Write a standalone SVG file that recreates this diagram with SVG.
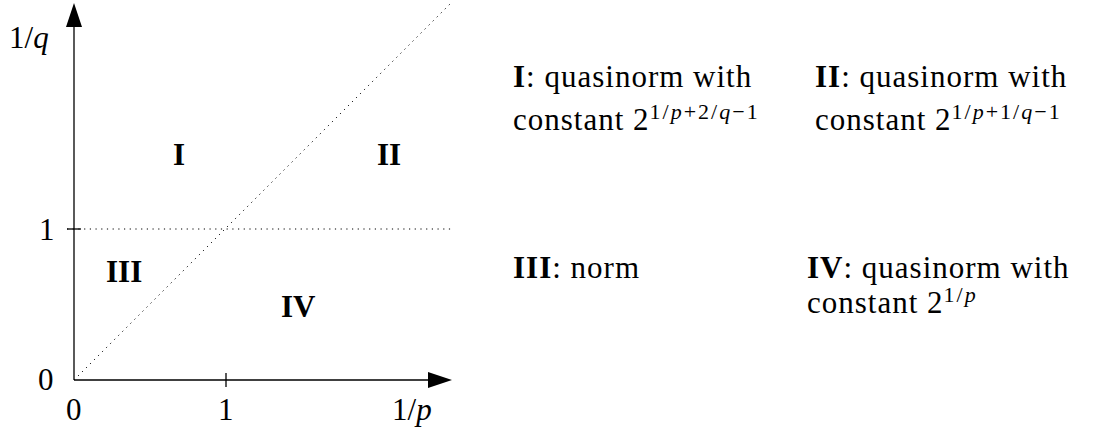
<svg xmlns="http://www.w3.org/2000/svg" width="1093" height="436" viewBox="0 0 1093 436">
<style>
.b{font-weight:bold}
.i{font-style:italic}
.sup{font-size:22px}
.ax{stroke:#000;stroke-width:1.3;fill:none}
.dot{stroke:#000;stroke-width:1;stroke-dasharray:1.2 4.5;fill:none}
</style>
<rect width="1093" height="436" fill="#fff"/>
<g id="connectors">
<line class="dot" x1="74" y1="380" x2="452" y2="2"/>
<line class="dot" x1="67" y1="229" x2="452" y2="229"/>
<path class="ax" d="M74,380 H432"/>
<path d="M452,380 L428,372 L428,388 z" fill="#000"/>
<path class="ax" d="M74,380 V24"/>
<path d="M74,3 L66,27 L82,27 z" fill="#000"/>
<line class="ax" x1="226" y1="373" x2="226" y2="387"/>
<line class="ax" x1="67" y1="229" x2="81" y2="229"/>
</g>
<g id="axis-labels">
<text x="9" y="48" style="font-family:'Liberation Serif',serif;font-size:31px">1/<tspan class="i">q</tspan></text>
<text x="39" y="240" style="font-family:'Liberation Serif',serif;font-size:31px">1</text>
<text x="38" y="390" style="font-family:'Liberation Serif',serif;font-size:31px">0</text>
<text x="66" y="420" style="font-family:'Liberation Serif',serif;font-size:31px">0</text>
<text x="218" y="420" style="font-family:'Liberation Serif',serif;font-size:31px">1</text>
<text x="392" y="420" style="font-family:'Liberation Serif',serif;font-size:31px">1/<tspan class="i">p</tspan></text>
</g>
<g id="region-I"><text class="b" x="173" y="165" style="font-family:'Liberation Serif',serif;font-size:31px">I</text></g>
<g id="region-II"><text class="b" x="377" y="165" style="font-family:'Liberation Serif',serif;font-size:31px">II</text></g>
<g id="region-III"><text class="b" x="106" y="282" style="font-family:'Liberation Serif',serif;font-size:31px">III</text></g>
<g id="region-IV"><text class="b" x="281" y="317" style="font-family:'Liberation Serif',serif;font-size:31px">IV</text></g>
<g id="legend-I">
<text x="513" y="87" style="font-family:'Liberation Serif',serif;font-size:31px;letter-spacing:1px"><tspan class="b">I</tspan>: quasinorm with</text>
<text x="513" y="130" style="font-family:'Liberation Serif',serif;font-size:31px;letter-spacing:1px">constant 2<tspan class="sup" dy="-11" style="letter-spacing:2px">1/<tspan class="i">p</tspan>+2/<tspan class="i">q</tspan>−1</tspan></text>
</g>
<g id="legend-II">
<text x="815" y="87" style="font-family:'Liberation Serif',serif;font-size:31px;letter-spacing:1px"><tspan class="b">II</tspan>: quasinorm with</text>
<text x="815" y="130" style="font-family:'Liberation Serif',serif;font-size:31px;letter-spacing:1px">constant 2<tspan class="sup" dy="-11" style="letter-spacing:2px">1/<tspan class="i">p</tspan>+1/<tspan class="i">q</tspan>−1</tspan></text>
</g>
<g id="legend-III">
<text x="513" y="278" style="font-family:'Liberation Serif',serif;font-size:31px;letter-spacing:1px"><tspan class="b">III</tspan>: norm</text>
</g>
<g id="legend-IV">
<text x="807" y="278" style="font-family:'Liberation Serif',serif;font-size:31px;letter-spacing:1px"><tspan class="b">IV</tspan>: quasinorm with</text>
<text x="807" y="313" style="font-family:'Liberation Serif',serif;font-size:31px;letter-spacing:1px">constant 2<tspan class="sup" dy="-11" style="letter-spacing:2px">1/<tspan class="i">p</tspan></tspan></text>
</g>
</svg>
